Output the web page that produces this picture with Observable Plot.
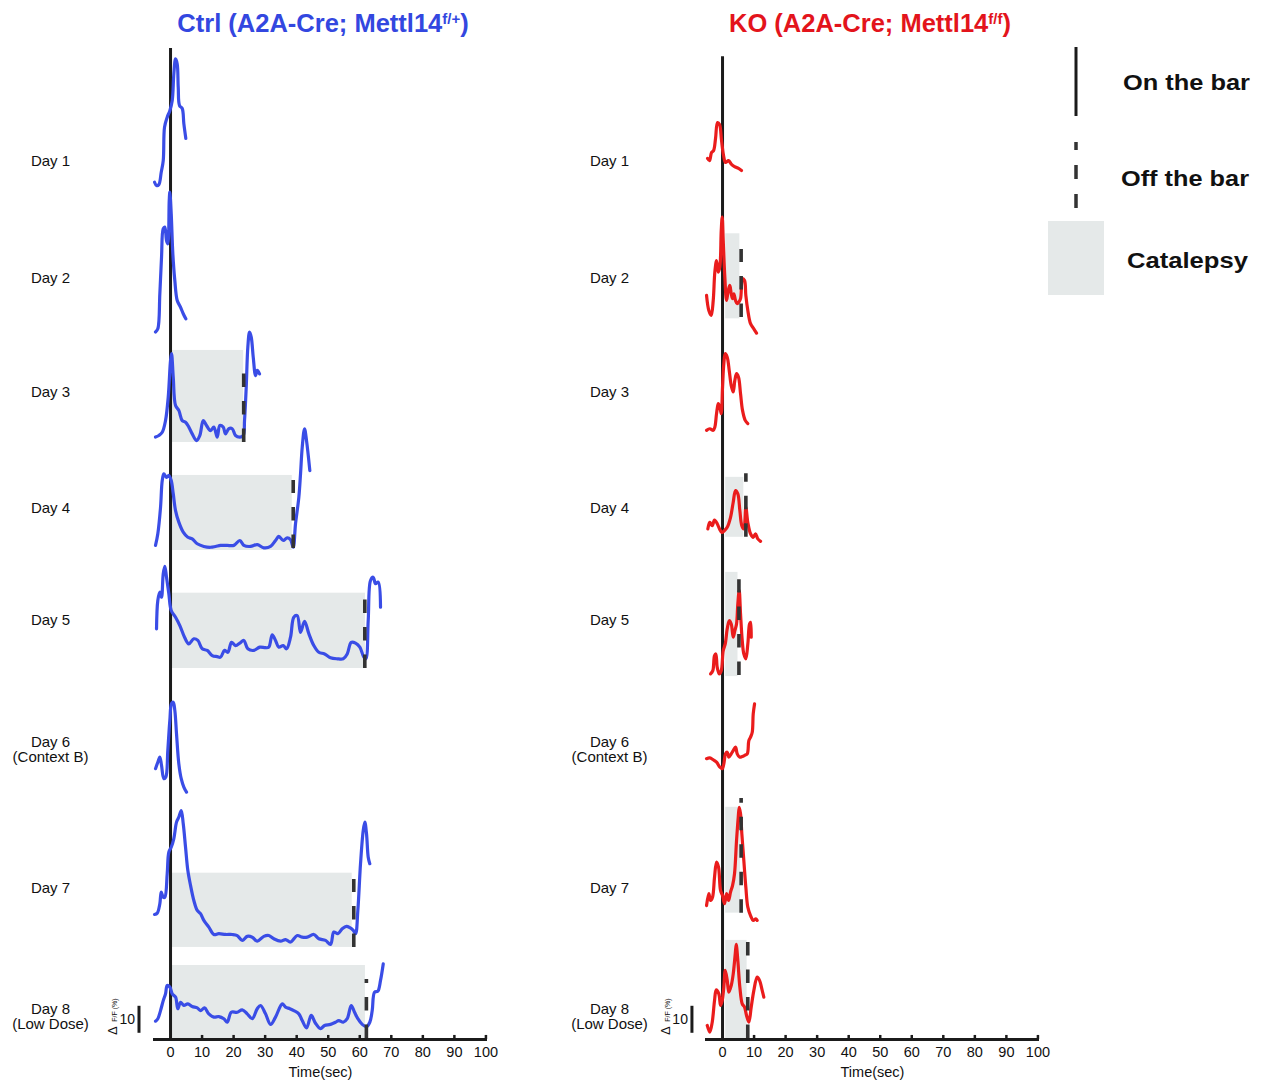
<!DOCTYPE html>
<html>
<head>
<meta charset="utf-8">
<script src="https://cdn.jsdelivr.net/npm/d3@7"></script>
<script src="https://cdn.jsdelivr.net/npm/@observablehq/plot@0.6"></script>
<style>
  body { margin: 0; background: #fff; font-family: "Liberation Sans", Arial, sans-serif; }
  #wrap { position: relative; width: 1262px; height: 1081px; overflow: hidden; background: #fff; }
  .panel { position: absolute; top: 0; }
  .panel svg { max-width: none; overflow: visible; background: transparent; }
  .title { position: absolute; top: 11px; font-weight: bold; font-size: 25.5px; line-height: 25px; white-space: nowrap; transform: translateX(-50%); }
  .title sup { font-size: 15px; line-height: 0; vertical-align: 0.55em; }
  #legend { position: absolute; left: 0; top: 0; pointer-events: none; }
</style>
</head>
<body>
<div id="wrap">
  <div class="panel" id="ctrl" style="left:0px"></div>
  <div class="panel" id="ko" style="left:552px"></div>
  <div class="title" style="left:323px;color:#3347e0">Ctrl (A2A-Cre; Mettl14<sup>f/+</sup>)</div>
  <div class="title" style="left:870px;color:#e3141c">KO (A2A-Cre; Mettl14<sup>f/f</sup>)</div>
</div>
<script>
// ---------------- data ----------------
const xTicks = [0, 10, 20, 30, 40, 50, 60, 70, 80, 90, 100];
const dayLabels = ["Day 1", "Day 2", "Day 3", "Day 4", "Day 5", "Day 6\n(Context B)", "Day 7", "Day 8\n(Low Dose)"];
const legendLabels = ["On the bar", "Off the bar", "Catalepsy"];
const scaleBarValue = 10;           // ΔF/F (%) scale bar

// row baselines (ΔF/F % units stacked above the time axis)
const ctrlOffset = [315.9, 261.5, 221.1, 181.1, 137.4, 91.5, 34.1, 0];
const koOffset   = [321.1, 261.5, 225.2, 184.4, 134.4, 100.0, 43.7, 0];
const labelLevel = [325.2, 282.2, 240.0, 197.0, 155.2, 107.4, 56.3, 8.5];

// Ctrl traces: [time (s), ΔF/F (%)]
const ctrlDay1 = [[-5.07,1.6],[-4.44,0.4],[-3.71,0.7],[-2.95,5.3],[-2.31,9.6],[-1.90,22.0],[-1.05,25.7],[-0.22,28.1],[0.54,31.9],[1.05,41.7],[1.59,47.3],[2.12,45.4],[2.44,36.8],[2.85,30.0],[3.71,28.9],[4.22,23.3],[4.85,17.8]];
const ctrlDay2 = [[-4.76,0.5],[-4.03,1.7],[-3.39,14.7],[-2.85,28.3],[-2.31,38.8],[-1.81,39.4],[-1.27,34.4],[-0.86,33.2],[-0.41,49.3],[-0.22,52.3],[0.22,44.3],[0.73,29.5],[1.36,19.6],[2.12,12.2],[3.17,9.7],[4.03,7.3],[4.85,5.4]];
const ctrlDay3 = [[-4.76,2.0],[-3.71,2.6],[-2.63,3.8],[-1.59,8.1],[-0.73,16.8],[0,30.4],[0.32,32.9],[0.86,24.2],[1.59,13.7],[2.63,11.9],[3.71,8.1],[4.76,7.5],[5.80,5.7],[6.88,3.2],[8.24,0.7],[9.29,2.6],[10.37,8.1],[11.41,6.3],[12.68,4.4],[13.73,5.7],[14.81,2.0],[15.63,6.3],[16.71,5.7],[17.44,3.2],[18.48,5.1],[19.56,5.1],[20.61,2.6],[21.97,2.0],[23.05,2.6],[23.46,8.1],[24.00,20.5],[24.51,35.3],[25.05,40.9],[25.59,39.0],[26.22,31.6],[26.95,24.8],[27.49,26.7],[28.22,25.4]];
const ctrlDay4 = [[-4.76,1.9],[-4.03,6.2],[-3.17,16.0],[-2.63,25.9],[-2.12,28.4],[-1.27,27.1],[-0.54,27.8],[0.22,25.9],[0.86,21.0],[1.59,14.8],[2.63,10.5],[4.03,6.8],[5.49,4.9],[6.88,4.3],[8.47,2.5],[10.56,1.5],[12.68,1.2],[14.27,1.5],[15.85,1.9],[17.98,1.9],[20.07,1.9],[21.97,3.7],[23.24,1.9],[25.36,1.5],[27.49,2.2],[29.58,1.0],[31.71,1.5],[33.29,3.7],[34.34,5.2],[35.73,3.7],[37.00,4.7],[38.05,4.0],[38.90,1.2],[39.63,9.9],[40.68,19.7],[41.22,28.4],[41.76,38.3],[42.49,45.1],[43.12,40.7],[44.17,29.6]];
const ctrlDay5 = [[-4.44,14.7],[-4.03,25.2],[-3.39,28.3],[-2.85,26.4],[-2.31,35.1],[-1.81,37.8],[-1.27,33.8],[-0.54,27.7],[0.22,21.5],[1.59,19.0],[2.95,15.9],[4.44,11.6],[5.80,9.1],[7.39,11.0],[8.66,10.4],[10.05,7.3],[11.64,6.7],[13.22,4.8],[14.81,4.4],[15.85,4.2],[17.12,6.7],[18.17,6.0],[19.34,9.7],[20.61,8.5],[21.97,9.4],[23.24,10.4],[24.51,7.3],[26.41,6.7],[28.31,7.9],[30.12,7.7],[31.17,7.9],[32.24,12.5],[33.29,10.4],[34.34,7.9],[35.73,8.5],[36.78,7.3],[38.05,11.6],[39.09,19.0],[40.17,19.6],[41.22,13.4],[42.49,17.5],[43.85,12.9],[45.43,8.5],[47.02,6.0],[48.83,5.4],[50.73,4.0],[52.85,3.6],[54.76,3.6],[56.02,5.4],[57.29,9.7],[58.66,9.4],[60.02,7.9],[61.29,4.2],[61.92,3.6],[62.68,17.8],[63.41,32.6],[64.27,33.8],[65.00,31.4],[65.85,32.0],[66.58,22.7]];
const ctrlDay6 = [[-4.76,8.8],[-4.03,11.2],[-3.39,13.1],[-2.85,10.0],[-2.12,5.1],[-1.49,5.7],[-0.86,15.6],[-0.22,26.7],[0.32,32.9],[0.86,33.4],[1.36,30.4],[1.90,21.7],[2.63,10.6],[3.39,5.1],[4.22,2.0],[5.07,0.1]];
const ctrlDay7 = [[-5.07,12.2],[-4.22,12.7],[-3.39,16.2],[-2.95,20.5],[-2.31,18.6],[-1.81,18.6],[-1.05,27.3],[-0.54,35.3],[0.22,37.1],[1.05,40.3],[1.90,46.4],[2.63,48.3],[3.39,50.7],[4.03,45.8],[4.76,37.1],[5.49,28.5],[6.34,23.0],[7.39,17.4],[8.47,13.7],[9.51,12.5],[10.56,10.0],[12.14,7.5],[13.73,4.8],[15.31,5.1],[17.44,4.8],[19.56,4.8],[21.15,4.4],[22.73,2.6],[24.32,4.1],[25.90,3.8],[27.49,2.3],[29.58,4.1],[31.17,4.4],[32.75,3.2],[34.88,2.3],[36.46,2.9],[38.05,2.0],[40.17,4.4],[41.76,3.8],[43.34,3.8],[45.43,4.8],[47.02,3.2],[49.14,2.6],[50.73,1.1],[51.78,5.7],[53.04,5.1],[54.44,6.9],[55.80,7.8],[56.85,7.3],[57.93,6.3],[58.66,5.1],[59.39,13.7],[60.24,31.0],[61.10,43.3],[61.61,46.4],[62.14,42.1],[62.68,33.4],[63.18,31.0]];
const ctrlDay8 = [[-4.76,6.8],[-4.03,7.7],[-3.17,10.7],[-2.31,14.4],[-1.59,16.9],[-1.05,20.0],[-0.22,19.4],[0.54,16.9],[1.59,15.7],[2.31,11.4],[3.17,13.8],[4.22,12.6],[5.49,13.2],[6.88,12.2],[8.47,11.7],[9.51,10.7],[10.78,11.7],[12.14,9.5],[13.73,8.3],[15.31,8.5],[16.90,7.7],[17.98,6.4],[19.25,10.1],[21.15,10.1],[22.73,11.0],[24.32,9.5],[25.90,7.7],[27.49,11.4],[28.54,12.6],[30.12,9.5],[31.71,5.6],[33.29,8.3],[35.42,13.2],[36.46,12.0],[37.83,11.4],[39.09,10.7],[40.68,9.5],[41.76,7.0],[43.12,4.3],[44.61,8.9],[45.97,6.0],[47.56,4.0],[48.83,5.2],[50.73,5.6],[52.31,6.4],[53.36,7.0],[54.76,6.4],[56.02,7.7],[57.29,12.6],[58.34,10.1],[59.39,7.7],[60.78,5.6],[62.14,4.8],[63.18,6.4],[63.95,10.7],[64.68,17.5],[65.73,17.9],[66.58,21.9],[67.44,28.0]];

// KO traces: [time (s), ΔF/F (%)]
const koDay1 = [[-4.76,5.2],[-4.12,4.4],[-3.49,7.4],[-2.85,8.1],[-2.22,12.6],[-1.59,18.5],[-0.95,17.8],[-0.32,11.9],[0.32,6.3],[0.95,3.7],[1.90,4.4],[2.85,3.0],[3.80,2.2],[5.07,1.5],[6.02,0.7]];
const koDay2 = [[-5.07,14.1],[-4.34,8.5],[-3.58,6.7],[-2.95,12.2],[-2.44,22.7],[-1.90,27.0],[-1.36,22.7],[-0.86,24.6],[-0.41,38.1],[-0.10,43.1],[0.22,34.4],[0.73,20.9],[1.27,12.2],[1.81,15.9],[2.31,17.8],[2.76,14.7],[3.17,12.9],[3.58,14.7],[4.12,12.2],[4.66,11.0],[5.17,11.6],[5.71,12.9],[6.34,20.3],[6.98,19.6],[7.39,14.1],[8.02,8.5],[8.88,3.6],[9.92,1.7],[10.78,0.1]];
const koDay3 = [[-5.07,0.4],[-4.03,1.0],[-2.95,0.4],[-2.44,1.6],[-1.90,6.6],[-1.36,10.3],[-0.86,9.0],[-0.41,6.6],[0.00,16.4],[0.41,25.1],[0.86,28.8],[1.49,27.5],[2.12,22.6],[2.76,17.0],[3.39,14.6],[3.90,18.9],[4.44,21.4],[5.07,20.1],[5.71,14.0],[6.34,7.8],[7.20,4.1],[8.02,2.9]];
const koDay4 = [[-4.66,4.7],[-4.03,7.1],[-3.27,5.9],[-2.54,8.0],[-1.68,6.6],[-0.95,4.7],[-0.22,3.4],[0.63,4.1],[1.49,5.3],[2.54,9.0],[3.39,14.6],[4.12,18.9],[4.85,17.7],[5.49,11.5],[6.12,5.9],[6.75,4.7],[7.39,12.7],[8.02,7.1],[8.88,2.9],[9.73,1.6],[10.46,2.9],[11.19,1.0],[12.05,0.1]];
const koDay5 = [[-3.80,1.0],[-3.08,2.2],[-2.54,7.8],[-2.12,8.4],[-1.68,3.4],[-1.05,1.0],[-0.41,2.2],[0.22,9.6],[0.86,12.1],[1.49,17.7],[2.12,20.7],[2.76,19.5],[3.39,14.6],[3.90,17.0],[4.44,19.5],[4.85,26.9],[5.29,31.9],[5.71,23.2],[6.25,13.3],[6.75,8.4],[7.39,6.6],[8.02,12.1],[8.56,19.5],[8.88,20.1],[9.10,14.6]];
const koDay6 = [[-5.07,4.0],[-4.03,4.3],[-2.95,3.6],[-1.90,2.7],[-0.86,0.9],[-0.10,0.3],[0.41,2.1],[0.95,5.8],[1.49,6.4],[2.00,4.6],[2.76,5.8],[3.39,7.0],[4.12,8.3],[4.66,5.8],[5.39,4.6],[6.25,4.8],[6.98,5.2],[7.83,5.8],[8.34,10.7],[8.88,12.0],[9.42,13.8],[9.73,20.6],[10.15,24.3]];
const koDay7 = [[-5.07,5.9],[-4.34,10.3],[-3.80,7.8],[-3.17,9.0],[-2.54,16.4],[-1.90,22.0],[-1.27,20.1],[-0.63,11.5],[0.00,9.6],[0.63,6.6],[1.27,10.3],[1.90,7.8],[2.54,10.9],[3.17,13.3],[3.80,17.7],[4.44,30.0],[4.98,38.6],[5.29,42.3],[5.71,39.9],[6.12,32.5],[6.75,22.6],[7.39,12.7],[8.02,5.3],[8.88,2.2],[9.73,0.4],[10.56,1.0],[11.00,0.4]];
const koDay8 = [[-4.85,5.2],[-4.03,2.7],[-3.27,6.4],[-2.54,14.4],[-2.00,18.4],[-1.17,16.9],[-0.63,12.6],[-0.10,14.4],[0.41,19.4],[0.86,25.6],[1.49,21.9],[2.00,17.5],[2.76,20.0],[3.39,24.3],[4.03,31.7],[4.34,35.2],[4.85,29.3],[5.49,19.4],[6.25,13.2],[6.98,12.0],[7.61,8.9],[8.34,6.4],[9.10,12.0],[9.92,18.1],[10.98,23.1],[11.73,21.9],[12.59,18.1],[13.09,15.7]];

const ctrlTraces = [ctrlDay1, ctrlDay2, ctrlDay3, ctrlDay4, ctrlDay5, ctrlDay6, ctrlDay7, ctrlDay8];
const koTraces = [koDay1, koDay2, koDay3, koDay4, koDay5, koDay6, koDay7, koDay8];

// catalepsy periods: [day, start (s), end (s), low, high (ΔF/F % within row)]
const ctrlCatalepsy = [[3,0.5,23.2,0,34.1],[4,0.5,38.6,0,27.8],[5,0.5,61.8,0,27.9],[7,0.5,57.6,0,27.5],[8,0.5,61.8,0,27.4]];
const koCatalepsy   = [[2,1.0,5.5,5.4,36.9],[4,1.0,6.75,1.6,23.8],[5,1.0,4.9,0,38.6],[7,1.0,5.7,3.1,42.3],[8,1.0,7.8,0,36.7]];
// off the bar: [day, time (s), low, high]
const ctrlOffBar = [[3,23.2,0,26.0],[4,38.9,0.7,25.9],[5,61.6,0,25.6],[7,58.1,0,25.2],[8,62.1,0.4,22.2]];
const koOffBar   = [[2,5.9,5.9,31.1],[4,7.4,1.6,25.1],[5,5.2,0.4,35.9],[7,5.9,3.1,45.6],[8,8.0,0.4,36.7]];

// ---------------- drawing ----------------
const BOX = "#e5e9e9", INK = "#1b1b1b";

function panel({traces, offsets, catalepsy, offBar, color, onTop, labelDx, barX}) {
  const pts = traces.flatMap((tr, i) => tr.map(([t, v]) => ({day: dayLabels[i], t, y: offsets[i] + v})));
  const boxes = catalepsy.map(([d, s, e, lo, hi]) => ({x1: s, x2: e, y1: offsets[d - 1] + lo, y2: offsets[d - 1] + hi}));
  const dashes = offBar.map(([d, t, lo, hi]) => ({x: t, y1: offsets[d - 1] + lo, y2: offsets[d - 1] + hi}));
  const rows = dayLabels.map((text, i) => ({text, y: labelLevel[i]}));
  const bar = [{x: barX, y1: 2.3, y2: 2.3 + scaleBarValue}];
  return Plot.plot({
    width: 552, height: 1081,
    marginLeft: 153, marginRight: 65, marginTop: 0, marginBottom: 42,
    x: {domain: [-5.4, 100.5]},
    y: {domain: [0, 384.8], axis: null},
    style: {fontFamily: "'Liberation Sans', Arial, sans-serif", overflow: "visible", background: "transparent", color: "#111"},
    marks: [
      Plot.rect(boxes, {x1: "x1", x2: "x2", y1: "y1", y2: "y2", fill: BOX}),
      Plot.ruleX([0], {y1: 0, y2: onTop, stroke: INK, strokeWidth: 3}),
      Plot.line(pts, {x: "t", y: "y", z: "day", stroke: color, strokeWidth: 3.2, curve: "catmull-rom", strokeLinejoin: "round"}),
      Plot.ruleX(dashes, {x: "x", y1: "y1", y2: "y2", stroke: "#333", strokeWidth: 3.6, strokeDasharray: "13.5,14"}),
      Plot.ruleY([0], {stroke: INK, strokeWidth: 3}),
      Plot.ruleX(xTicks.slice(1), {x: d => d, y1: 0, y2: 1.5, stroke: INK, strokeWidth: 2.5}),
      Plot.axisX({ticks: xTicks, tickSize: 0, tickPadding: 7, fontSize: 14.5, label: "Time(sec)", labelAnchor: "center", labelArrow: "none", labelOffset: 37}),
      Plot.text(rows, {y: "y", text: "text", frameAnchor: "left", dx: labelDx, textAnchor: "middle", fontSize: 15, lineHeight: 1.05, fill: "#111"}),
      Plot.ruleX(bar, {x: "x", y1: "y1", y2: "y2", stroke: INK, strokeWidth: 3}),
      Plot.text(bar, {x: "x", y: d => (d.y1 + d.y2) / 2, text: () => String(scaleBarValue), dx: -4, textAnchor: "end", fontSize: 14, fill: "#111"}),
      Plot.text(bar, {x: "x", y: 3.3, text: () => "Δ", dx: -26, rotate: -90, fontSize: 13, fill: "#111"}),
      Plot.text(bar, {x: "x", y: 6.6, text: () => "F/F (%)", dx: -24, rotate: -90, textAnchor: "start", fontSize: 7, fill: "#111"})
    ]
  });
}

document.getElementById("ctrl").append(panel({
  traces: ctrlTraces, offsets: ctrlOffset, catalepsy: ctrlCatalepsy, offBar: ctrlOffBar,
  color: "#3a4de6", onTop: 367, labelDx: -103, barX: -10
}));
document.getElementById("ko").append(panel({
  traces: koTraces, offsets: koOffset, catalepsy: koCatalepsy, offBar: koOffBar,
  color: "#ea1c1c", onTop: 364, labelDx: -96, barX: -9.7
}));

// legend
const leg = d3.create("svg").attr("id", "legend").attr("width", 1262).attr("height", 1081);
leg.append("line").attr("x1", 1076).attr("x2", 1076).attr("y1", 47).attr("y2", 116).attr("stroke", INK).attr("stroke-width", 3);
leg.append("line").attr("x1", 1076).attr("x2", 1076).attr("y1", 208).attr("y2", 142).attr("stroke", "#333").attr("stroke-width", 3.5).attr("stroke-dasharray", "14,15");
leg.append("rect").attr("x", 1048).attr("y", 221).attr("width", 56).attr("height", 74).attr("fill", BOX);
const lt = [[1123, 90, 127], [1121, 186, 128], [1127, 268, 121]];
legendLabels.forEach((s, i) => {
  leg.append("text").attr("x", lt[i][0]).attr("y", lt[i][1]).attr("textLength", lt[i][2]).attr("lengthAdjust", "spacingAndGlyphs")
    .attr("font-family", "'Liberation Sans', Arial, sans-serif").attr("font-weight", "bold").attr("font-size", 22).attr("fill", "#111").text(s);
});
document.getElementById("wrap").append(leg.node());
</script>
</body>
</html>
